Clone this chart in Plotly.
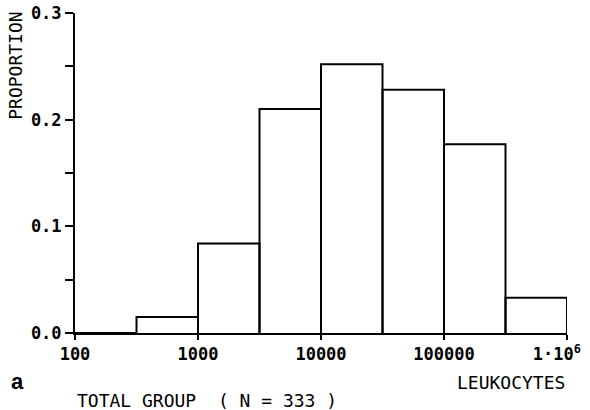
import plotly.graph_objects as go

# Half-decade bins of leukocyte counts (bin edges) and proportion per bin
bin_edges = [100, 316.2, 1000, 3162, 10000, 31623, 100000, 316228, 1000000]
proportions = [0.0, 0.015, 0.084, 0.210, 0.252, 0.228, 0.177, 0.033]

x_tick_vals = [100, 1000, 10000, 100000, 1000000]
x_tick_text = ["100", "1000", "10000", "100000",
               "1·10<sup>6</sup>&nbsp;&nbsp;"]
y_tick_vals = [0.0, 0.1, 0.2, 0.3]
y_tick_text = ["0.0", "0.1", "0.2", "0.3"]

# Outline of each histogram bar as one closed step path
xs, ys = [], []
for i, h in enumerate(proportions):
    left, right = bin_edges[i], bin_edges[i + 1]
    xs += [left, left, right, right, None]
    ys += [0, h, h, 0, None]

fig = go.Figure()
fig.add_trace(go.Scatter(
    x=xs, y=ys, mode="lines",
    line=dict(color="black", width=2),
    hoverinfo="skip", showlegend=False,
))

mono = "DejaVu Sans Mono"

fig.update_layout(
    width=590, height=410,
    margin=dict(l=75, r=23, t=13, b=77),
    paper_bgcolor="white", plot_bgcolor="white",
    xaxis=dict(
        type="log", range=[2, 6], automargin=False,
        tickvals=x_tick_vals, ticktext=x_tick_text,
        ticklabeloverflow="allow",
        tickfont=dict(family=mono, size=17, color="black", weight="bold"),
        showline=True, linecolor="black", linewidth=2,
        ticks="outside", ticklen=5, tickwidth=2, tickcolor="black",
        showgrid=False, zeroline=False,
    ),
    yaxis=dict(
        range=[0, 0.3], automargin=False,
        tickvals=y_tick_vals, ticktext=y_tick_text,
        ticklabeloverflow="allow",
        tickfont=dict(family=mono, size=17, color="black", weight="bold"),
        showline=True, linecolor="black", linewidth=2,
        ticks="outside", ticklen=8, tickwidth=2, tickcolor="black",
        minor=dict(tickvals=[0.05, 0.15, 0.25], ticks="outside",
                   ticklen=8, tickwidth=2, tickcolor="black"),
        showgrid=False, zeroline=False,
    ),
    annotations=[
        dict(text="PROPORTION", textangle=-90,
             xref="paper", yref="paper", x=-0.12, y=1.01,
             xanchor="center", yanchor="top", showarrow=False,
             font=dict(family=mono, size=18, color="black")),
        dict(text="LEUKOCYTES",
             xref="paper", yref="paper", x=1.0, y=-0.156,
             xanchor="right", yanchor="middle", showarrow=False,
             font=dict(family=mono, size=18, color="black")),
        dict(text="TOTAL GROUP  ( N = 333 )",
             xref="paper", yref="paper", x=0.0, y=-0.21,
             xanchor="left", yanchor="middle", showarrow=False,
             font=dict(family=mono, size=18, color="black")),
        dict(text="<b>a</b>",
             xref="paper", yref="paper", x=-0.116, y=-0.153,
             xanchor="center", yanchor="middle", showarrow=False,
             font=dict(family="Liberation Sans", size=22, color="black")),
    ],
)

fig.write_html("out.html")
